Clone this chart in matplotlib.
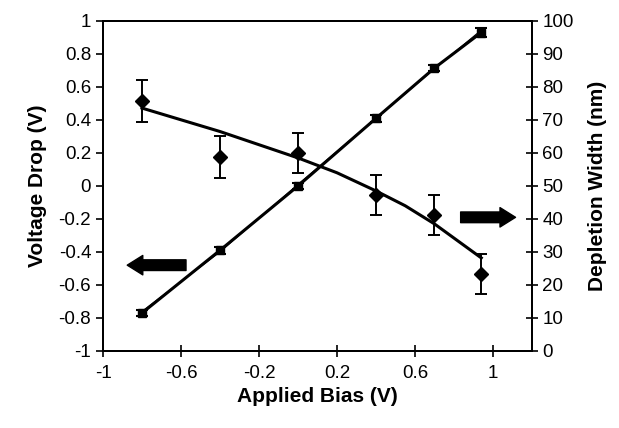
import matplotlib
matplotlib.use("Agg")
import matplotlib.pyplot as plt

plt.rcParams['font.family'] = ['Liberation Sans', 'DejaVu Sans']

# applied bias (V)
bias = [-0.8, -0.4, 0.0, 0.4, 0.7, 0.94]
# voltage drop (left axis), squares
v_drop = [-0.77, -0.39, 0.0, 0.41, 0.715, 0.93]
v_err = [0.02, 0.02, 0.02, 0.02, 0.02, 0.03]
v_fit = [-0.76, -0.40, 0.01, 0.41, 0.71, 0.945]
# depletion width (right axis), diamonds
width = [75.8, 58.8, 60.0, 47.3, 41.2, 23.3]
width_err = [6.3, 6.3, 6.0, 6.0, 6.0, 6.0]
fit_bias = [-0.8, -0.4, 0.0, 0.2, 0.4, 0.55, 0.7, 0.94]
width_fit = [73.6, 66.5, 58.5, 54.0, 48.5, 44.0, 38.5, 28.2]

fig = plt.figure(figsize=(6.19, 4.28), dpi=100)
ax = fig.add_axes([0.1664, 0.18, 0.693, 0.771])
ax2 = ax.twinx()

ax.plot(bias, v_drop, color='black', lw=2.2, zorder=3)
ax.plot(bias, v_fit, color='black', lw=0.8, zorder=3)
ax.errorbar(bias, v_drop, yerr=v_err, fmt='s', color='black', ms=6,
            capsize=4, elinewidth=1.2, capthick=1.5, zorder=4)

ax2.plot(fit_bias, width_fit, color='black', lw=2.2)
ax2.errorbar(bias, width, yerr=width_err, fmt='D', color='black', ms=7,
             capsize=4, elinewidth=1.4, capthick=1.4)

ax.set_xlim(-1, 1.2)
ax.set_ylim(-1, 1)
ax2.set_ylim(0, 100)
ax.set_xticks([-1, -0.6, -0.2, 0.2, 0.6, 1])
ax.set_xticklabels(['-1', '-0.6', '-0.2', '0.2', '0.6', '1'])
ax.set_yticks([-1, -0.8, -0.6, -0.4, -0.2, 0, 0.2, 0.4, 0.6, 0.8, 1])
ax.set_yticklabels(['-1', '-0.8', '-0.6', '-0.4', '-0.2', '0', '0.2', '0.4', '0.6', '0.8', '1'])
ax2.set_yticks(range(0, 101, 10))

ax.tick_params(axis='y', direction='out', length=5, labelsize=13.5, width=1.2)
ax.tick_params(axis='x', direction='inout', length=8, labelsize=13.5, width=1.2, pad=6)
ax2.tick_params(axis='y', direction='inout', length=8, labelsize=13.5, width=1.2)
for a in (ax, ax2):
    for s in a.spines.values():
        s.set_linewidth(1.4)

ax.set_xlabel('Applied Bias (V)', fontsize=15, fontweight='bold')
ax.set_ylabel('Voltage Drop (V)', fontsize=15, fontweight='bold', labelpad=8)
ax2.set_ylabel('Depletion Width (nm)', fontsize=15, fontweight='bold', labelpad=10)

arrow_style = 'simple,head_length=0.8,head_width=1.0,tail_width=0.55'
ax.annotate('', xy=(-0.89, -0.48), xytext=(-0.56, -0.48),
            arrowprops=dict(arrowstyle=arrow_style, color='black', mutation_scale=14))
ax.annotate('', xy=(1.13, -0.19), xytext=(0.82, -0.19),
            arrowprops=dict(arrowstyle=arrow_style, color='black', mutation_scale=14))

fig.savefig('out.png', dpi=100)
